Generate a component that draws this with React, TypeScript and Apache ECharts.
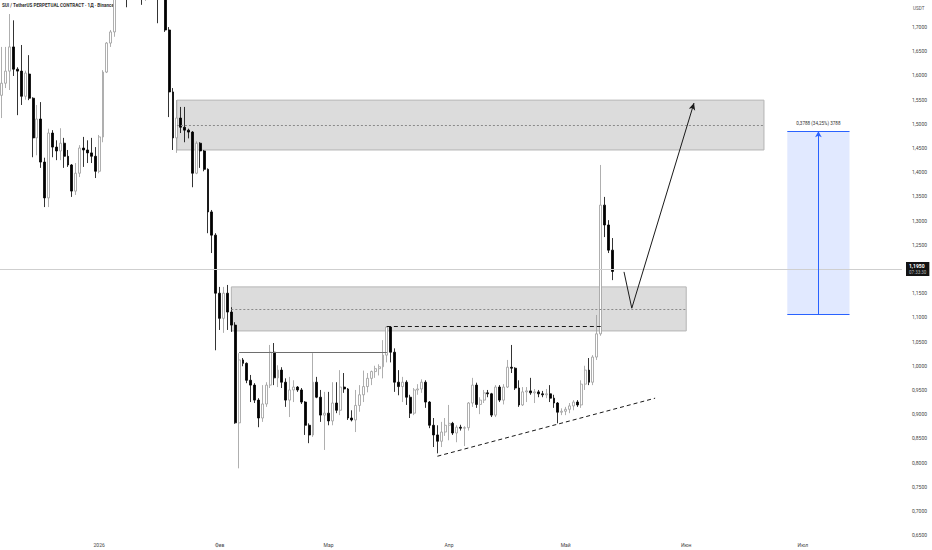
import { useEffect, useRef } from 'react'
import * as echarts from 'echarts'

// daily candles, [open, close, low, high], first candle = 2025-12-07
const decCandles = [
  [1.559, 1.584, 1.512, 1.659], [1.584, 1.609, 1.574, 1.659], [1.609, 1.659, 1.570, 1.727],
  [1.659, 1.613, 1.599, 1.714], [1.613, 1.609, 1.518, 1.617], [1.609, 1.557, 1.539, 1.663],
  [1.557, 1.605, 1.550, 1.610], [1.603, 1.553, 1.549, 1.642], [1.553, 1.471, 1.431, 1.555],
  [1.471, 1.510, 1.435, 1.539], [1.510, 1.421, 1.409, 1.545], [1.421, 1.347, 1.328, 1.430],
  [1.347, 1.481, 1.328, 1.490], [1.481, 1.452, 1.431, 1.487], [1.452, 1.444, 1.425, 1.466],
  [1.444, 1.460, 1.425, 1.491], [1.460, 1.433, 1.409, 1.471], [1.433, 1.415, 1.411, 1.446],
  [1.415, 1.361, 1.349, 1.417], [1.361, 1.398, 1.353, 1.419], [1.398, 1.450, 1.390, 1.456],
  [1.450, 1.446, 1.411, 1.473], [1.446, 1.440, 1.419, 1.466], [1.440, 1.433, 1.419, 1.471],
  [1.433, 1.402, 1.388, 1.452],
]

const janCandles = [
  [1.402, 1.473, 1.398, 1.477], [1.473, 1.607, 1.462, 1.611], [1.607, 1.667, 1.605, 1.669],
  [1.667, 1.690, 1.659, 1.694], [1.690, 1.770, 1.680, 1.790], [1.770, 1.820, 1.765, 1.850],
  [1.820, 1.790, 1.770, 1.860], [1.790, 1.775, 1.741, 1.820], [1.775, 1.830, 1.765, 1.870],
  [1.830, 1.880, 1.815, 1.900], [1.880, 1.840, 1.820, 1.910], [1.840, 1.790, 1.746, 1.850],
  [1.790, 1.810, 1.754, 1.840], [1.810, 1.800, 1.780, 1.830], [1.800, 1.790, 1.770, 1.820],
  [1.790, 1.760, 1.708, 1.800], [1.760, 1.790, 1.757, 1.810], [1.790, 1.694, 1.690, 1.800],
  [1.694, 1.566, 1.514, 1.700], [1.566, 1.471, 1.446, 1.574], [1.471, 1.512, 1.440, 1.549],
  [1.512, 1.493, 1.481, 1.535], [1.493, 1.487, 1.462, 1.535], [1.487, 1.483, 1.470, 1.490],
  [1.483, 1.398, 1.369, 1.485], [1.398, 1.460, 1.396, 1.464], [1.460, 1.444, 1.409, 1.462],
  [1.444, 1.406, 1.402, 1.446], [1.406, 1.318, 1.274, 1.408], [1.318, 1.270, 1.233, 1.322],
  [1.270, 1.150, 1.032, 1.274],
]

const febCandles = [
  [1.150, 1.098, 1.074, 1.163], [1.098, 1.150, 1.068, 1.163], [1.150, 1.111, 1.074, 1.167],
  [1.111, 1.084, 1.070, 1.121], [1.084, 0.882, 0.880, 1.090], [0.882, 1.012, 0.788, 1.026],
  [1.012, 1.005, 0.999, 1.016], [1.005, 0.970, 0.964, 1.007], [0.970, 0.960, 0.925, 0.981],
  [0.960, 0.929, 0.923, 0.964], [0.929, 0.892, 0.873, 0.933], [0.892, 0.921, 0.884, 0.960],
  [0.921, 0.960, 0.915, 0.966], [0.960, 1.028, 0.954, 1.043], [1.028, 0.975, 0.960, 1.047],
  [0.975, 0.991, 0.956, 1.001], [0.991, 0.966, 0.954, 0.997], [0.966, 0.929, 0.915, 0.974],
  [0.929, 0.950, 0.894, 0.977], [0.950, 0.956, 0.925, 0.970], [0.956, 0.950, 0.946, 0.958],
  [0.950, 0.925, 0.921, 0.954], [0.925, 0.877, 0.857, 0.927], [0.877, 0.857, 0.840, 0.881],
  [0.857, 0.966, 0.853, 1.026], [0.966, 0.935, 0.933, 0.977], [0.935, 0.898, 0.884, 0.950],
  [0.898, 0.902, 0.826, 0.946],
]

const marCandles = [
  [0.902, 0.886, 0.877, 0.946], [0.886, 0.923, 0.877, 0.966], [0.923, 0.908, 0.902, 0.966],
  [0.908, 0.956, 0.898, 0.991], [0.956, 0.952, 0.944, 0.985], [0.952, 0.892, 0.888, 0.954],
  [0.892, 0.888, 0.885, 0.908], [0.888, 0.918, 0.863, 0.950], [0.918, 0.940, 0.905, 0.960],
  [0.940, 0.957, 0.925, 0.990], [0.957, 0.974, 0.945, 0.985], [0.974, 0.988, 0.960, 0.990],
  [0.988, 0.994, 0.975, 1.000], [0.994, 0.998, 0.980, 1.003], [0.998, 1.022, 0.974, 1.053],
  [1.022, 1.080, 1.007, 1.082], [1.080, 1.028, 1.007, 1.082], [1.028, 0.966, 0.946, 1.036],
  [0.966, 0.957, 0.939, 0.991], [0.957, 0.966, 0.925, 0.977], [0.966, 0.935, 0.919, 0.970],
  [0.935, 0.902, 0.892, 0.940], [0.902, 0.950, 0.898, 0.954], [0.950, 0.952, 0.940, 0.962],
  [0.952, 0.966, 0.944, 0.972], [0.966, 0.925, 0.913, 0.970], [0.925, 0.877, 0.871, 0.927],
  [0.877, 0.857, 0.832, 0.892], [0.857, 0.844, 0.819, 0.877], [0.844, 0.863, 0.832, 0.884],
  [0.863, 0.877, 0.855, 0.892],
]

const aprCandles = [
  [0.877, 0.881, 0.846, 0.919], [0.881, 0.861, 0.857, 0.884], [0.861, 0.873, 0.842, 0.877],
  [0.873, 0.871, 0.866, 0.878], [0.871, 0.872, 0.834, 0.875], [0.872, 0.923, 0.866, 0.925],
  [0.923, 0.960, 0.915, 0.975], [0.960, 0.920, 0.913, 0.965], [0.920, 0.929, 0.900, 0.935],
  [0.929, 0.944, 0.923, 0.950], [0.944, 0.942, 0.935, 0.950], [0.942, 0.898, 0.894, 0.944],
  [0.898, 0.956, 0.894, 0.960], [0.956, 0.929, 0.925, 0.960], [0.929, 0.956, 0.920, 0.962],
  [0.956, 0.997, 0.954, 1.012], [0.997, 0.995, 0.985, 1.043], [0.995, 0.954, 0.950, 0.997],
  [0.954, 0.919, 0.915, 0.970], [0.919, 0.946, 0.917, 0.956], [0.946, 0.948, 0.925, 0.956],
  [0.948, 0.944, 0.940, 0.975], [0.944, 0.946, 0.923, 0.952], [0.946, 0.942, 0.935, 0.950],
  [0.942, 0.940, 0.935, 0.948], [0.940, 0.942, 0.933, 0.952], [0.942, 0.933, 0.925, 0.960],
  [0.933, 0.923, 0.913, 0.940], [0.923, 0.904, 0.881, 0.925], [0.904, 0.906, 0.898, 0.912],
]

const mayCandles = [
  [0.906, 0.910, 0.898, 0.915], [0.910, 0.917, 0.902, 0.923], [0.917, 0.925, 0.908, 0.929],
  [0.925, 0.919, 0.915, 0.929], [0.919, 0.962, 0.913, 0.970], [0.962, 0.991, 0.950, 1.000],
  [0.991, 0.966, 0.960, 1.016], [0.966, 1.018, 0.960, 1.022], [1.018, 1.066, 1.012, 1.105],
  [1.066, 1.332, 1.062, 1.415], [1.332, 1.291, 1.266, 1.349], [1.291, 1.239, 1.233, 1.301],
  [1.239, 1.195, 1.177, 1.264],
]

// 1,2000 sits behind the last-price tag, so it is left out
const priceTicks = [
  0.65, 0.7, 0.75, 0.8, 0.85, 0.9, 0.95, 1.0, 1.05, 1.1, 1.15,
  1.25, 1.3, 1.35, 1.4, 1.45, 1.5, 1.55, 1.6, 1.65, 1.7,
]
const monthLabels = ['2026', 'Фев', 'Мар', 'Апр', 'Май', 'Июн', 'Июл']

// drawn zones and lines (price levels, day index)
const upperZone = { from: 45, to: 196, top: 1.549, bottom: 1.446, mid: 1.497 }
const lowerZone = { from: 59, to: 176, top: 1.163, bottom: 1.072, mid: 1.117 }
const rangeHigh = { from: 61, to: 99, price: 1.028 }
const breakLevel = { from: 99, to: 154, price: 1.082 }
const trendLine = [[112, 0.813], [168, 0.933]]
const forecastPath = [[160, 1.194], [162, 1.119], [178, 1.543]]
const measure = { from: 202, to: 218, mid: 210, low: 1.106, high: 1.4848 }
const lastPrice = 1.195

const DAY_COUNT = 232
const categories: string[] = []
for (let i = 0; i < DAY_COUNT; i++) {
  const d = new Date(Date.UTC(2025, 11, 7 + i))
  categories.push(d.toISOString().slice(0, 10))
}

const candles = [...decCandles, ...janCandles, ...febCandles, ...marCandles, ...aprCandles, ...mayCandles]

const fmt = (v: number) => v.toFixed(4).replace('.', ',')
const pt = (i: number, v: number, extra = {}) => ({ coord: [categories[i], v], ...extra })

export default function App() {
  const chartRef = useRef<HTMLDivElement>(null)

  useEffect(() => {
    if (!chartRef.current) return
    const chart = echarts.init(chartRef.current, null, { renderer: 'svg' })

    const dashedGray = { color: '#8a8a8a', width: 1, type: [2, 2] }

    chart.setOption({
      animation: false,
      backgroundColor: '#ffffff',
      textStyle: { fontFamily: 'Roboto, sans-serif' },
      grid: { left: 0, right: 30, top: 0, bottom: 12, containLabel: false },
      xAxis: {
        type: 'category',
        data: categories,
        boundaryGap: true,
        axisLine: { show: false },
        axisTick: { show: false },
        splitLine: { show: false },
        axisLabel: {
          interval: (_: number, value: string) => value.endsWith('-01') && value.startsWith('2026'),
          formatter: (value: string) => monthLabels[Number(value.slice(5, 7)) - 1],
          fontSize: 5,
          color: '#444',
          margin: 4,
        },
      },
      yAxis: {
        type: 'value',
        position: 'right',
        min: 0.644,
        max: 1.756,
        scale: true,
        axisLine: { show: false },
        axisTick: { show: false },
        splitLine: { show: false },
        axisLabel: {
          customValues: priceTicks,
          formatter: (v: number) => fmt(v),
          fontSize: 5,
          color: '#444',
          margin: 10,
        },
      },
      graphic: [
        {
          type: 'text',
          left: 2,
          top: 3,
          style: {
            text: 'SUI / TetherUS PERPETUAL CONTRACT · 1Д · Binance',
            fontSize: 4.6,
            fontWeight: 'bold',
            fill: '#333',
            fontFamily: 'Roboto, sans-serif',
          },
        },
        {
          type: 'text',
          left: 913,
          top: 6,
          style: { text: 'USDT', fontSize: 4.6, fill: '#555', fontFamily: 'Roboto, sans-serif' },
        },
      ],
      series: [
        {
          type: 'candlestick',
          data: candles,
          barWidth: '62%',
          clip: true,
          itemStyle: {
            color: '#ffffff',
            borderColor: '#9a9a9a',
            color0: '#000000',
            borderColor0: '#000000',
            borderWidth: 0.8,
          },
          markArea: {
            silent: true,
            data: [
              [
                { coord: [categories[upperZone.from], upperZone.top], itemStyle: { color: 'rgba(150,150,150,0.33)', borderColor: '#b4b4b4', borderWidth: 1 } },
                { coord: [categories[upperZone.to], upperZone.bottom] },
              ],
              [
                { coord: [categories[lowerZone.from], lowerZone.top], itemStyle: { color: 'rgba(150,150,150,0.33)', borderColor: '#b4b4b4', borderWidth: 1 } },
                { coord: [categories[lowerZone.to], lowerZone.bottom] },
              ],
              [
                { coord: [categories[measure.from], measure.high], itemStyle: { color: 'rgba(41,98,255,0.14)' } },
                { coord: [categories[measure.to], measure.low] },
              ],
            ],
          },
          markLine: {
            silent: true,
            symbol: ['none', 'none'],
            label: { show: false },
            data: [
              {
                yAxis: lastPrice,
                lineStyle: { color: '#cfcfcf', width: 1, type: 'solid' },
                label: {
                  show: true,
                  position: 'end',
                  distance: 4,
                  formatter: '{a|' + fmt(lastPrice) + '}\n{b|07:33:30}',
                  backgroundColor: '#131313',
                  padding: [1, 3, 1, 3],
                  rich: {
                    a: { color: '#ffffff', fontSize: 5, fontWeight: 'bold', lineHeight: 6 },
                    b: { color: '#bbbbbb', fontSize: 4.5, lineHeight: 6 },
                  },
                },
              },
              [pt(upperZone.from, upperZone.mid, { lineStyle: dashedGray }), pt(upperZone.to, upperZone.mid)],
              [pt(lowerZone.from, lowerZone.mid, { lineStyle: dashedGray }), pt(lowerZone.to, lowerZone.mid)],
              [
                pt(rangeHigh.from, rangeHigh.price, { lineStyle: { color: '#6e6e6e', width: 1, type: 'solid' } }),
                pt(rangeHigh.to, rangeHigh.price),
              ],
              [
                pt(breakLevel.from, breakLevel.price, { lineStyle: { color: '#1a1a1a', width: 1, type: [4, 3] } }),
                pt(breakLevel.to, breakLevel.price),
              ],
              [
                pt(trendLine[0][0], trendLine[0][1], { lineStyle: { color: '#1a1a1a', width: 1, type: [4, 3] } }),
                pt(trendLine[1][0], trendLine[1][1]),
              ],
              [
                pt(forecastPath[0][0], forecastPath[0][1], { lineStyle: { color: '#1a1a1a', width: 1, type: 'solid' } }),
                pt(forecastPath[1][0], forecastPath[1][1]),
              ],
              [
                pt(forecastPath[1][0], forecastPath[1][1], { lineStyle: { color: '#1a1a1a', width: 1, type: 'solid' } }),
                pt(forecastPath[2][0], forecastPath[2][1], { symbol: 'arrow', symbolSize: [5, 7] }),
              ],
              [
                pt(measure.from, measure.high, {
                  lineStyle: { color: '#2962ff', width: 1, type: 'solid' },
                  label: {
                    show: true,
                    position: 'insideMiddleTop',
                    distance: 4,
                    formatter: '0,3788 (34,25%) 3788',
                    fontSize: 4.6,
                    color: '#333',
                    backgroundColor: '#ffffff',
                    padding: [1, 2],
                  },
                }),
                pt(measure.to, measure.high),
              ],
              [
                pt(measure.from, measure.low, { lineStyle: { color: '#2962ff', width: 1, type: 'solid' } }),
                pt(measure.to, measure.low),
              ],
              [
                pt(measure.mid, measure.low, { lineStyle: { color: '#2962ff', width: 1, type: 'solid' } }),
                pt(measure.mid, measure.high, { symbol: 'arrow', symbolSize: [5, 6] }),
              ],
            ],
          },
        },
      ],
    })

    return () => {
      chart.dispose()
    }
  }, [])

  return (
    <div
      ref={chartRef}
      style={{ position: 'absolute', left: 0, top: 0, width: '932px', height: '550px' }}
    ></div>
  )
}
